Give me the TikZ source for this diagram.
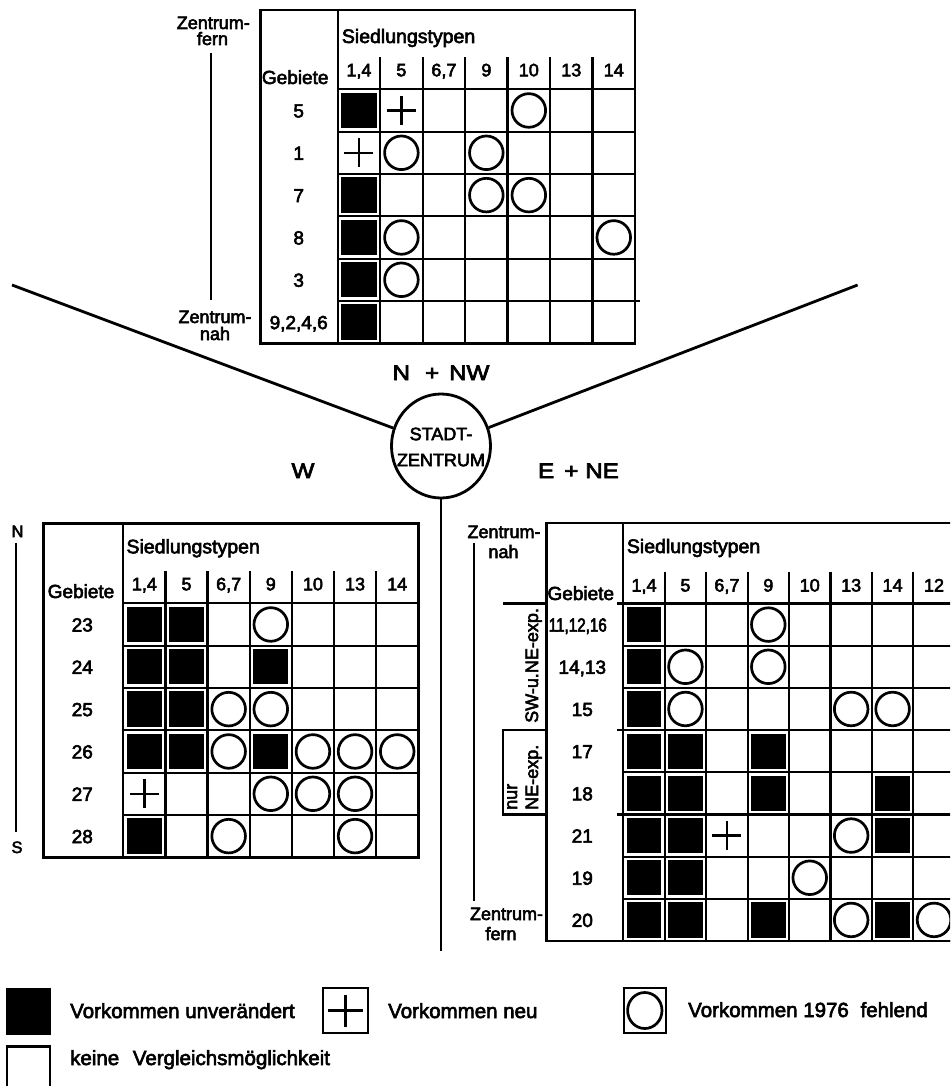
\documentclass[tikz,border=0pt]{standalone}
\usepackage{fontspec}
\setmainfont{Liberation Sans}[FakeBold=3]
\newfontfamily\dirfont{Liberation Sans}[FakeStretch=1.15,FakeBold=3.5]
\newfontfamily\narrowfont{Liberation Sans}[FakeStretch=0.8,FakeBold=3]
\usetikzlibrary{shapes.geometric}

\tikzset{
  tblborder/.style={line width=2.6pt},
  tblgrid/.style={line width=2.2pt},
  cellcirc/.style={line width=2.7pt},
  cellplus/.style={line width=2.4pt},
  spoke/.style={line width=2.8pt},
  axisline/.style={line width=2.2pt},
  ttl/.style={font=\fontsize{19.5}{22}\selectfont, inner sep=0pt, anchor=base west},
  hnum/.style={font=\fontsize{18}{21}\selectfont, inner sep=0pt, anchor=base},
  rlab/.style={font=\fontsize{19}{22}\selectfont, inner sep=0pt, anchor=base},
  geb/.style={font=\fontsize{19}{22}\selectfont, inner sep=0pt, anchor=base},
  axlab/.style={font=\fontsize{18}{21}\selectfont, inner sep=0pt, anchor=base},
  dirlab/.style={font=\dirfont\fontsize{21}{24}\selectfont, inner sep=0pt, anchor=base},
  rotlab/.style={font=\fontsize{18}{21}\selectfont, inner sep=0pt, rotate=90, anchor=base west},
  legtext/.style={font=\fontsize{20.5}{24}\selectfont, inner sep=0pt, anchor=base west},
  legbox/.style={draw, line width=2.2pt, minimum width=43pt, minimum height=44pt, inner sep=0pt},
}

% grid of a table: #1 left of Gebiete column, #2 top, #3 cell width, #4 cell height, #5 columns, #6 rows
\newcommand\TabGrid[6]{%
  \draw[tblgrid] (0,0) -- ({#5*#3},0);
  \foreach \j in {1,...,#6}{\draw[tblgrid] (0,{\j*#4}) -- ({#5*#3},{\j*#4});}
  \foreach \i in {1,...,#5}{\draw[tblgrid] ({\i*#3},-32) -- ({\i*#3},{#6*#4});}
  \draw[tblgrid] (0,#2) -- (0,{#6*#4});
  \draw[tblborder] (#1,#2) rectangle ({#5*#3},{#6*#4});
}
\newcommand\cellB[2]{\fill ({#1*\tcw+3.5},{#2*\tch+3.5}) rectangle ({(#1+1)*\tcw-3.5},{(#2+1)*\tch-3.5});}
\newcommand\cellO[2]{\draw[cellcirc] ({(#1+0.5)*\tcw},{(#2+0.5)*\tch}) circle[radius=16.8];}
\newcommand\cellP[2]{\draw[cellplus] ({(#1+0.5)*\tcw-14.5},{(#2+0.5)*\tch}) -- ++(29,0) ({(#1+0.5)*\tcw},{(#2+0.5)*\tch-14.5}) -- ++(0,29);}

\begin{document}
\begin{tikzpicture}[x=1pt,y=-1pt]
\useasboundingbox (0,0) rectangle (950,1086);
\fill[white] (0,0) rectangle (950,1086);
\clip (0,0) rectangle (950,1086);

% ================= top table (N + NW) =================
\begin{scope}[shift={(337.7,89.3)}]
  \def\tcw{42.47}\def\tch{42.33}
  \TabGrid{-77}{-79.3}{\tcw}{\tch}{7}{6}
  \draw[tblgrid] ({7*\tcw},{5*\tch}) -- ({7*\tcw+5},{5*\tch});
  \node[ttl] (t1s) at (4,-46.3) {Siedlungstypen};
  \foreach \t [count=\i from 0] in {{1,4},5,{6,7},9,10,13,14}
    \node[hnum] (t1h\i) at ({(\i+0.5)*\tcw},-13) {\t};
  \node[geb] (t1g) at (-42.5,-5.3) {Gebiete};
  \foreach \t [count=\j from 0] in {5,1,7,8,3,{9,2,4,6}}
    \node[rlab] (t1r\j) at (-39,{(\j+0.5)*\tch+7}) {\t};
  \cellB{0}{0}\cellP{1}{0}\cellO{4}{0}
  \cellP{0}{1}\cellO{1}{1}\cellO{3}{1}
  \cellB{0}{2}\cellO{3}{2}\cellO{4}{2}
  \cellB{0}{3}\cellO{1}{3}\cellO{6}{3}
  \cellB{0}{4}\cellO{1}{4}
  \cellB{0}{5}
\end{scope}
\node[axlab] (tlz1) at (213.3,29) {Zentrum-};
\node[axlab] (tlf) at (212.5,45) {fern};
\node[axlab] (tlz2) at (215,323) {Zentrum-};
\node[axlab] (tln) at (215,340) {nah};
\coordinate (tla) at (210.7,53);
\coordinate (tlb) at (210.7,300);
\draw[axisline] (tla) -- (tlb);

% ================= centre =================
\node[ellipse, draw, line width=2.8pt, minimum width=99pt, minimum height=104pt, inner sep=0pt] (sz) at (441,446) {};
\node[font=\fontsize{18}{26}\selectfont, align=center, inner sep=0pt] (szt) at (441,447) {STADT-\\ZENTRUM};
\coordinate (vl) at (12,285);
\coordinate (vr) at (857.6,285);
\coordinate (vb) at (441,951);
\draw[spoke] (vl) -- (sz);
\draw[spoke] (vr) -- (sz);
\draw[spoke] (sz) -- (vb);
\node[dirlab] (dN) at (441,380) {N\hspace{15pt}+\hspace{10pt}NW};
\node[dirlab] (dW) at (303,478) {W};
\node[dirlab] (dE) at (578.5,478) {E\hspace{10pt}+\hspace{7pt}NE};

% ================= left table (W) =================
\begin{scope}[shift={(123.3,603.3)}]
  \def\tcw{42.14}\def\tch{42.33}
  \TabGrid{-80}{-80}{\tcw}{\tch}{7}{6}
  \node[ttl] (t2s) at (3,-50) {Siedlungstypen};
  \foreach \t [count=\i from 0] in {{1,4},5,{6,7},9,10,13,14}
    \node[hnum] (t2h\i) at ({(\i+0.5)*\tcw},-13) {\t};
  \node[geb] (t2g) at (-42.3,-5.3) {Gebiete};
  \foreach \t [count=\j from 0] in {23,24,25,26,27,28}
    \node[rlab] (t2r\j) at (-41,{(\j+0.5)*\tch+7}) {\t};
  \cellB{0}{0}\cellB{1}{0}\cellO{3}{0}
  \cellB{0}{1}\cellB{1}{1}\cellB{3}{1}
  \cellB{0}{2}\cellB{1}{2}\cellO{2}{2}\cellO{3}{2}
  \cellB{0}{3}\cellB{1}{3}\cellO{2}{3}\cellB{3}{3}\cellO{4}{3}\cellO{5}{3}\cellO{6}{3}
  \cellP{0}{4}\cellO{3}{4}\cellO{4}{4}\cellO{5}{4}
  \cellB{0}{5}\cellO{2}{5}\cellO{5}{5}
\end{scope}
\node[font=\fontsize{16.5}{20}\selectfont, inner sep=0pt, anchor=base] (lN) at (17.5,537) {N};
\node[font=\fontsize{16.5}{20}\selectfont, inner sep=0pt, anchor=base] (lS) at (17,853) {S};
\coordinate (lna) at (15.7,543);
\coordinate (lnb) at (15.7,832);
\draw[axisline] (lna) -- (lnb);

% ================= right table (E + NE) =================
\begin{scope}[shift={(623.3,603.5)}]
  \def\tcw{41.43}\def\tch{42.19}
  \TabGrid{-76.8}{-80.5}{\tcw}{\tch}{8}{8}
  \foreach \k in {0,3,5}{\draw[tblgrid] (-6.5,{\k*\tch}) -- (0,{\k*\tch});}
  \node[ttl] (t3s) at (3.4,-50.5) {Siedlungstypen};
  \foreach \t [count=\i from 0] in {{1,4},5,{6,7},9,10,13,14,12}
    \node[hnum] (t3h\i) at ({(\i+0.5)*\tcw},-12) {\t};
  \node[geb, anchor=base west] (t3g) at (-76,-3.5) {Gebiete};
  \node[rlab] (t3r0) at (-45.5,{0.5*\tch+7}) {\narrowfont 11,12,16};
  \foreach \t [count=\j from 1] in {{14,13},15,17,18,21,19,20}
    \node[rlab] (t3r\j) at (-41,{(\j+0.5)*\tch+7}) {\t};
  \cellB{0}{0}\cellO{3}{0}
  \cellB{0}{1}\cellO{1}{1}\cellO{3}{1}
  \cellB{0}{2}\cellO{1}{2}\cellO{5}{2}\cellO{6}{2}
  \cellB{0}{3}\cellB{1}{3}\cellB{3}{3}
  \cellB{0}{4}\cellB{1}{4}\cellB{3}{4}\cellB{6}{4}
  \cellB{0}{5}\cellB{1}{5}\cellP{2}{5}\cellO{5}{5}\cellB{6}{5}
  \cellB{0}{6}\cellB{1}{6}\cellO{4}{6}
  \cellB{0}{7}\cellB{1}{7}\cellB{3}{7}\cellO{5}{7}\cellB{6}{7}\cellO{7}{7}
\end{scope}
% brackets left of the right table
\coordinate (bk1a) at (503.3,603.5); \coordinate (bk1b) at (548,603.5);
\coordinate (bk2a) at (503.3,730.1); \coordinate (bk2b) at (548,730.1);
\coordinate (bk3a) at (503.3,814.5); \coordinate (bk3b) at (548,814.5);
\draw[tblgrid] (bk1a) -- (bk1b);
\draw[tblgrid] (bk2b) -- (bk2a) -- (bk3a) -- (bk3b);
\node[rotlab] (bsw) at (538,723) {SW-u.NE-exp.};
\node[rotlab] (bne) at (538,810) {NE-exp.};
\node[rotlab] (bnur) at (517,810) {nur};
\node[axlab] (rz1) at (504,538) {Zentrum-};
\node[axlab] (rn) at (503.5,558) {nah};
\node[axlab] (rz2) at (506.5,920) {Zentrum-};
\node[axlab] (rf) at (501,940) {fern};
\coordinate (rla) at (474.3,543);
\coordinate (rlb) at (474.3,901);
\draw[axisline] (rla) -- (rlb);

% ================= legend =================
\node[legbox, fill=black] (lg1) at (28.3,1011.5) {};
\node[legtext] (lt1) at (70,1018) {Vorkommen unverändert};
\node[legbox, minimum width=45pt, minimum height=45pt] (lg2) at (345.5,1010.5) {};
\draw[cellplus] ([xshift=-17.5pt]lg2.center) -- ([xshift=17.5pt]lg2.center);
\draw[cellplus] ([yshift=-16pt]lg2.center) -- ([yshift=16pt]lg2.center);
\node[legtext] (lt2) at (388,1018) {Vorkommen neu};
\node[legbox, minimum width=42.4pt, minimum height=45pt] (lg3) at (644.8,1010.5) {};
\draw[cellcirc] (lg3.center) circle[x radius=17.2, y radius=18];
\node[legtext] (lt3) at (688,1017) {Vorkommen 1976\hspace{6pt} fehlend};
\node[legbox] (lg4) at (28.3,1068.5) {};
\node[legtext] (lt4) at (70,1065) {keine\hspace{8pt} Vergleichsmöglichkeit};
\end{tikzpicture}
\end{document}
